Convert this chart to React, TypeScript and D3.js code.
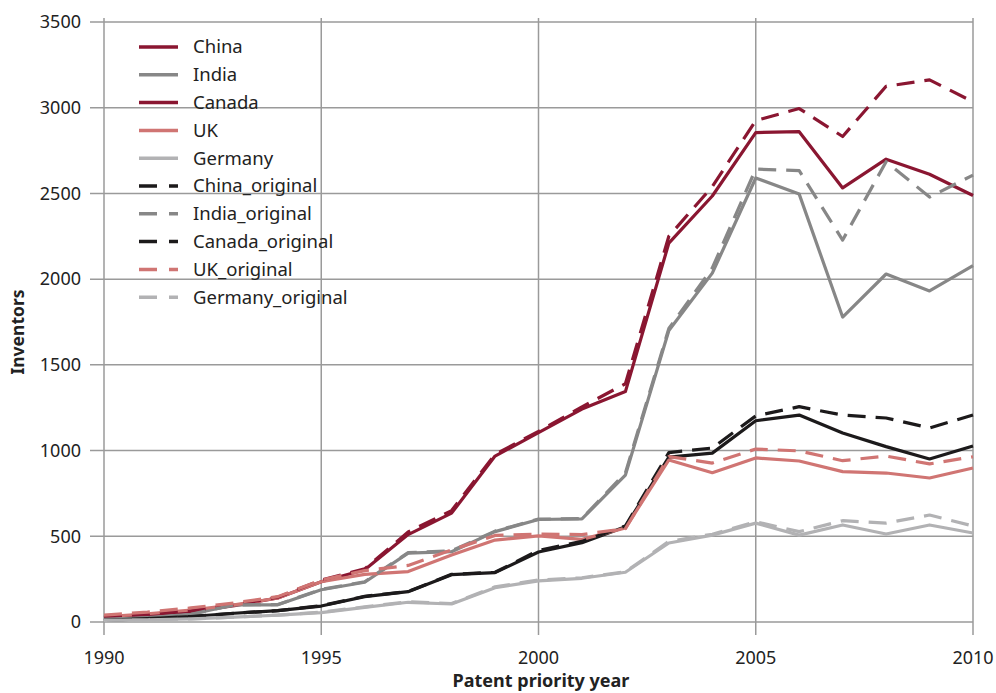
import React from 'react';
import * as d3 from 'd3';

const years = d3.range(1990, 2011);
const china = [25, 40, 60, 95, 140, 235, 305, 510, 635, 968, 1105, 1242, 1344, 2210, 2485, 2855, 2860, 2532, 2700, 2612, 2488];
const chinaOriginal = [28, 45, 65, 100, 145, 245, 310, 525, 650, 978, 1112, 1255, 1390, 2250, 2540, 2925, 2995, 2832, 3125, 3162, 3035];
const india = [15, 25, 45, 100, 100, 188, 232, 402, 410, 527, 598, 601, 857, 1700, 2035, 2590, 2496, 1779, 2030, 1931, 2079];
const indiaOriginal = [15, 25, 45, 100, 102, 190, 235, 405, 415, 530, 600, 603, 870, 1712, 2065, 2642, 2633, 2228, 2685, 2479, 2607];
const canada = [10, 20, 32, 51, 66, 93, 148, 177, 276, 288, 408, 463, 556, 962, 985, 1174, 1207, 1102, 1023, 951, 1027];
const canadaOriginal = [10, 20, 32, 51, 66, 95, 150, 178, 278, 290, 418, 470, 560, 988, 1015, 1202, 1256, 1207, 1190, 1132, 1207];
const uk = [30, 48, 70, 100, 140, 235, 278, 294, 391, 478, 502, 482, 548, 945, 871, 957, 939, 877, 869, 840, 898];
const ukOriginal = [40, 58, 82, 111, 148, 245, 300, 330, 420, 505, 513, 510, 545, 965, 927, 1009, 998, 941, 968, 922, 964];
const germany = [10, 13, 18, 28, 40, 55, 85, 115, 105, 200, 240, 255, 290, 461, 507, 577, 507, 566, 513, 566, 519];
const germanyOriginal = [10, 13, 18, 28, 40, 58, 88, 118, 108, 205, 245, 258, 293, 470, 512, 585, 527, 591, 577, 624, 560];

const xTicks = [1990, 1995, 2000, 2005, 2010];
const yTicks = [0, 500, 1000, 1500, 2000, 2500, 3000, 3500];

const RED = '#8a1631';
const GREY = '#878787';
const BLACK = '#1c1a1b';
const SALMON = '#d07573';
const LIGHT = '#b2b2b4';

// plot lines (what is drawn)
const series = [
  { name: 'China', values: china, color: RED, dash: false },
  { name: 'India', values: india, color: GREY, dash: false },
  { name: 'Canada', values: canada, color: BLACK, dash: false },
  { name: 'UK', values: uk, color: SALMON, dash: false },
  { name: 'Germany', values: germany, color: LIGHT, dash: false },
  { name: 'China_original', values: chinaOriginal, color: RED, dash: true },
  { name: 'India_original', values: indiaOriginal, color: GREY, dash: true },
  { name: 'Canada_original', values: canadaOriginal, color: BLACK, dash: true },
  { name: 'UK_original', values: ukOriginal, color: SALMON, dash: true },
  { name: 'Germany_original', values: germanyOriginal, color: LIGHT, dash: true },
];

// legend swatches as printed in the figure
const legendColors = [RED, GREY, RED, SALMON, LIGHT, BLACK, GREY, BLACK, SALMON, LIGHT];

const FONT = '"Noto Sans", "Open Sans", sans-serif';

export default function App() {
  const width = 996;
  const height = 693;
  const x = d3.scaleLinear().domain([1990, 2010]).range([104, 973]);
  const y = d3.scaleLinear().domain([0, 3500]).range([622, 22]);
  const line = d3.line<number>()
    .x((_, i) => x(years[i]))
    .y(d => y(d));

  const grid = '#9a9a9a';

  return (
    <svg width={width} height={height} style={{ position: 'absolute', left: 0, top: 0 }} fontFamily={FONT}>
      <rect width={width} height={height} fill="#fff" />
      {yTicks.map(t => (
        <g key={t}>
          <line x1={90} x2={973} y1={y(t)} y2={y(t)} stroke={grid} strokeWidth={1.5} />
          <text x={81} y={y(t)} dy="0.35em" textAnchor="end" fontSize={18} fill="#222">{t}</text>
        </g>
      ))}
      {xTicks.map(t => (
        <g key={t}>
          <line x1={x(t)} x2={x(t)} y1={18} y2={635} stroke={grid} strokeWidth={1.5} />
          <text x={x(t)} y={664} textAnchor="middle" fontSize={18} fill="#222">{t}</text>
        </g>
      ))}
      {series.map(s => (
        <path
          key={s.name}
          d={line(s.values) || ''}
          fill="none"
          stroke={s.color}
          strokeWidth={3.2}
          strokeDasharray={s.dash ? '18,10' : undefined}
          strokeLinejoin="round"
        />
      ))}
      <g>
        {series.map((s, i) => (
          <g key={s.name} transform={`translate(139,${47 + i * 27.8})`}>
            <line x1={0} x2={39} y1={0} y2={0} stroke={legendColors[i]} strokeWidth={3.5}
              strokeDasharray={s.dash ? '18,12' : undefined} />
            <text x={54} y={0} dy="0.35em" fontSize={18.5} fill="#222">{s.name}</text>
          </g>
        ))}
      </g>
      <text transform={`translate(24,332) rotate(-90)`} textAnchor="middle" fontSize={17.5} fontWeight="bold" fill="#222">Inventors</text>
      <text x={541} y={687} textAnchor="middle" fontSize={18} fontWeight="bold" fill="#222">Patent priority year</text>
    </svg>
  );
}
